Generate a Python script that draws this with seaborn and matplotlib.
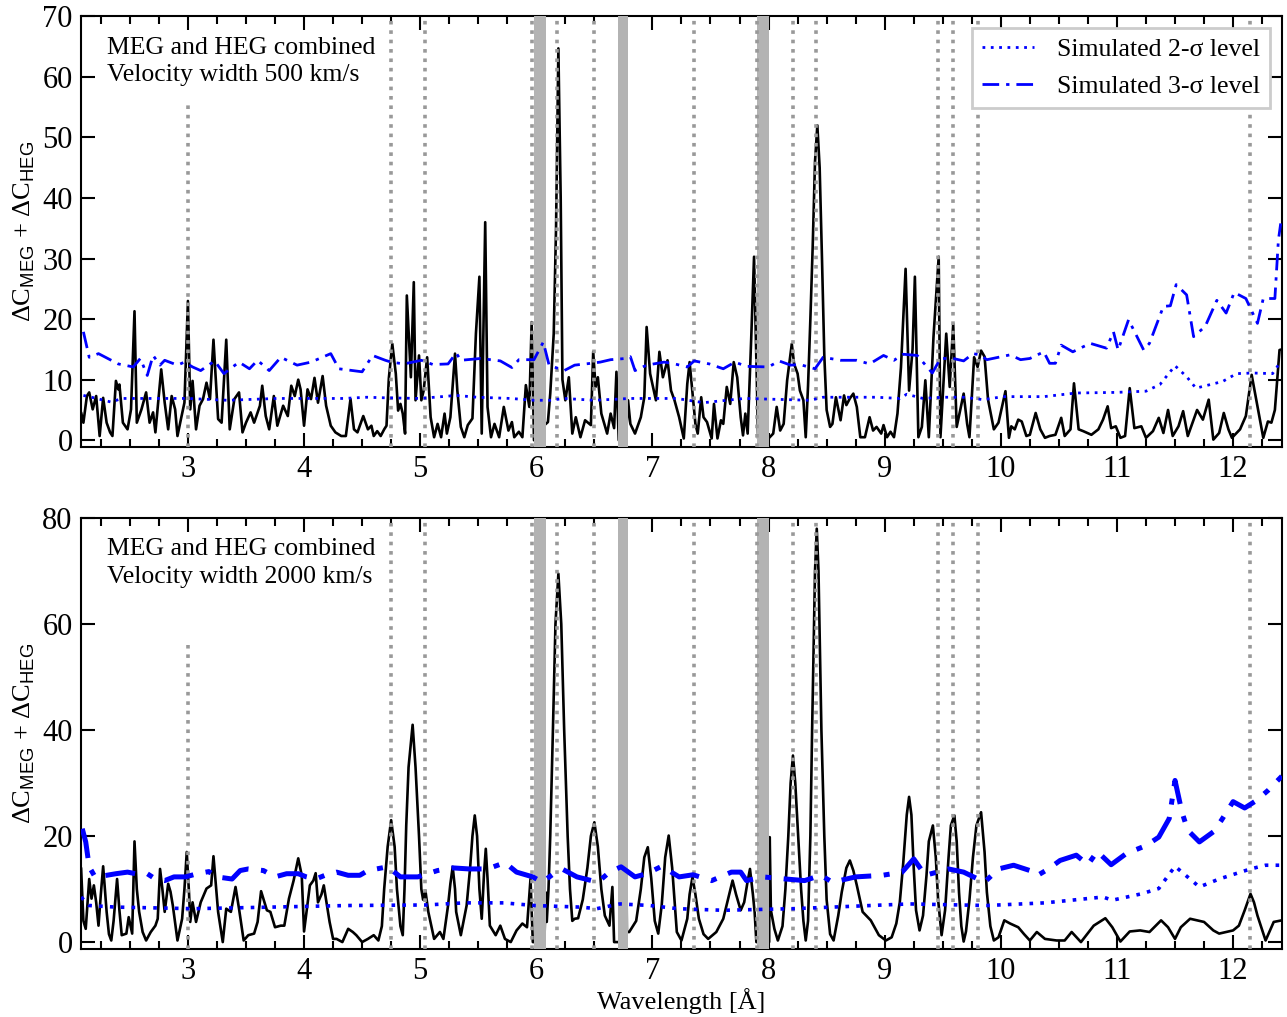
import seaborn as sns
import matplotlib.pyplot as plt
import pandas as pd
from matplotlib import ticker

sns.set_theme(style="ticks")
plt.rcParams["font.family"] = ["Liberation Serif", "DejaVu Serif"]
plt.rcParams["mathtext.fontset"] = "custom"
plt.rcParams["mathtext.sf"] = "Liberation Sans"
plt.rcParams["mathtext.rm"] = "Liberation Serif"
for key in ["text.color", "axes.labelcolor", "xtick.color", "ytick.color", "axes.edgecolor"]:
    plt.rcParams[key] = "black"

# ---- data ----
# panel 1: velocity width 500 km/s
w500 = [2.08, 2.10, 2.13, 2.15, 2.18, 2.21, 2.24, 2.27, 2.30, 2.33, 2.35, 2.38, 2.40, 2.41, 2.44, 2.48,
        2.51, 2.54, 2.56, 2.60, 2.64, 2.67, 2.70, 2.72, 2.77, 2.80, 2.83, 2.86, 2.89, 2.91, 2.94, 2.97,
        3.00, 3.02, 3.04, 3.07, 3.10, 3.13, 3.16, 3.19, 3.22, 3.26, 3.29, 3.33, 3.36, 3.40, 3.44, 3.47,
        3.50, 3.54, 3.57, 3.62, 3.64, 3.67, 3.70, 3.74, 3.77, 3.82, 3.86, 3.89, 3.92, 3.95, 3.97, 4.00,
        4.03, 4.06, 4.09, 4.12, 4.16, 4.19, 4.23, 4.27, 4.32, 4.36, 4.40, 4.43, 4.46, 4.51, 4.55, 4.58,
        4.60, 4.63, 4.66, 4.69, 4.71, 4.73, 4.76, 4.79, 4.81, 4.83, 4.85, 4.87, 4.885, 4.92, 4.945, 4.96,
        4.99, 5.01, 5.03, 5.06, 5.09, 5.12, 5.15, 5.18, 5.21, 5.23, 5.26, 5.30, 5.32, 5.35, 5.38, 5.41,
        5.45, 5.48, 5.51, 5.53, 5.56, 5.58, 5.61, 5.64, 5.68, 5.72, 5.76, 5.79, 5.81, 5.85, 5.88, 5.91,
        5.94, 5.96, 5.98, 6.04, 6.07, 6.10, 6.12, 6.15, 6.17, 6.19, 6.21, 6.225, 6.25, 6.28, 6.31, 6.34,
        6.38, 6.42, 6.47, 6.49, 6.51, 6.53, 6.56, 6.61, 6.64, 6.67, 6.69, 6.71, 6.77, 6.79, 6.81, 6.85,
        6.90, 6.93, 6.95, 6.98, 7.03, 7.06, 7.09, 7.13, 7.16, 7.19, 7.23, 7.27, 7.30, 7.32, 7.34, 7.37,
        7.39, 7.42, 7.44, 7.47, 7.51, 7.53, 7.56, 7.59, 7.61, 7.64, 7.67, 7.70, 7.73, 7.76, 7.78, 7.80,
        7.82, 7.85, 7.875, 7.91, 8.00, 8.04, 8.07, 8.10, 8.13, 8.16, 8.19, 8.20, 8.22, 8.25, 8.27, 8.30,
        8.32, 8.34, 8.36, 8.38, 8.40, 8.42, 8.44, 8.46, 8.48, 8.50, 8.53, 8.55, 8.58, 8.62, 8.65, 8.67,
        8.70, 8.73, 8.76, 8.79, 8.83, 8.87, 8.90, 8.93, 8.97, 8.99, 9.02, 9.05, 9.08, 9.11, 9.14, 9.18,
        9.21, 9.24, 9.26, 9.29, 9.32, 9.35, 9.38, 9.42, 9.465, 9.48, 9.53, 9.56, 9.59, 9.62, 9.68, 9.71,
        9.73, 9.77, 9.80, 9.83, 9.86, 9.89, 9.94, 9.98, 10.04, 10.07, 10.09, 10.12, 10.15, 10.18, 10.22, 10.25,
        10.30, 10.34, 10.38, 10.42, 10.47, 10.52, 10.55, 10.60, 10.63, 10.67, 10.71, 10.78, 10.84, 10.88, 10.92, 10.95,
        10.99, 11.03, 11.07, 11.11, 11.15, 11.21, 11.25, 11.31, 11.36, 11.40, 11.44, 11.48, 11.53, 11.57, 11.61, 11.66,
        11.69, 11.74, 11.79, 11.83, 11.88, 11.92, 11.96, 11.99, 12.06, 12.11, 12.16, 12.21, 12.26, 12.30, 12.33, 12.36,
        12.40, 12.42]
dc500 = [4.6, 2.9, 7.3, 7.9, 5.1, 7.3, 0.7, 7.0, 2.9, 1.3, 0.7, 9.8, 8.4, 9.2, 2.9, 1.8,
         5.1, 21.3, 2.9, 5.1, 7.9, 2.9, 4.6, 1.3, 11.7, 6.2, 1.8, 7.3, 5.1, 0.7, 3.5, 6.2,
         23.0, 5.1, 9.8, 1.8, 5.7, 6.8, 9.5, 6.8, 16.6, 3.5, 2.9, 16.6, 1.8, 6.8, 7.9, 1.3,
         2.9, 4.6, 2.9, 5.7, 9.0, 4.0, 1.8, 7.3, 2.4, 5.7, 4.0, 9.0, 7.3, 10.0, 8.4, 2.4,
         8.4, 6.8, 10.3, 6.2, 10.6, 5.7, 2.4, 1.3, 0.7, 0.7, 6.8, 1.8, 1.3, 4.0, 1.8, 2.4,
         0.7, 1.5, 0.7, 1.8, 2.4, 10.2, 15.9, 11.0, 4.9, 6.0, 4.4, 1.1, 23.9, 10.4, 26.1, 6.6,
         14.0, 6.6, 8.2, 13.7, 3.8, 0.5, 2.7, 0.5, 4.4, 1.1, 3.8, 14.3, 8.2, 2.2, 0.5, 2.5,
         3.6, 17.6, 27.0, 1.1, 36.0, 5.5, 0.5, 2.7, 0.5, 5.5, 1.6, 3.0, 0.5, 1.4, 0.5, 9.1,
         5.5, 19.5, 0.0, 0.0, 2.5, 3.0, 7.7, 17.6, 35.0, 64.7, 40.0, 10.0, 6.6, 10.4, 1.1, 3.8,
         0.5, 3.3, 2.5, 14.6, 8.8, 10.4, 4.4, 1.1, 4.4, 2.0, 11.3, 0.0, 0.0, 6.6, 2.7, 1.1,
         3.8, 7.1, 18.7, 11.0, 6.6, 14.6, 10.4, 13.2, 8.2, 6.6, 3.8, 0.3, 9.3, 12.9, 8.8, 2.7,
         1.1, 7.1, 3.8, 3.0, 0.3, 6.0, 0.3, 3.3, 2.7, 8.8, 6.0, 12.9, 10.4, 3.8, 0.8, 4.4,
         1.1, 16.5, 30.3, 0.3, 0.3, 1.1, 5.5, 1.6, 2.7, 9.9, 14.3, 15.9, 12.6, 11.0, 8.2, 6.6,
         0.5, 9.0, 20.0, 32.0, 46.0, 52.0, 45.0, 30.0, 14.0, 5.0, 2.2, 2.7, 7.1, 3.3, 7.4, 5.8,
         6.9, 7.7, 5.5, 0.5, 0.5, 3.8, 1.6, 2.2, 1.1, 2.5, 0.5, 1.4, 0.5, 4.4, 12.0, 28.3,
         8.2, 15.0, 27.0, 0.5, 2.2, 9.9, 0.5, 17.0, 30.3, 0.5, 17.6, 8.8, 19.2, 2.2, 7.7, 2.7,
         0.5, 13.7, 12.1, 14.8, 13.8, 6.7, 1.8, 2.9, 8.1, 0.4, 2.3, 1.8, 3.4, 3.1, 0.7, 0.9,
         4.5, 1.8, 0.4, 0.7, 0.9, 3.7, 0.7, 1.8, 9.4, 1.8, 1.5, 0.9, 1.8, 3.4, 5.6, 2.0,
         2.3, 0.4, 0.7, 8.6, 2.0, 2.3, 0.4, 1.5, 3.7, 1.2, 5.0, 0.7, 2.3, 4.8, 0.7, 3.4,
         5.0, 3.4, 6.7, 0.1, 1.2, 4.5, 1.8, 0.4, 1.8, 4.0, 10.8, 5.6, 0.4, 3.1, 2.9, 5.0,
         14.9, 15.0]

sig2_w500 = [2.10, 2.17, 2.34, 2.43, 3.00, 3.34, 3.77, 4.06, 4.34, 4.54, 4.71, 5.00, 5.31, 5.49, 5.78,
             5.98, 6.12, 6.24, 6.50, 6.81, 7.21, 7.44, 7.79, 8.36, 8.47, 8.93, 9.13, 9.19, 9.33, 9.50,
             9.68, 9.85, 10.02, 10.37, 10.65, 10.99, 11.25, 11.37, 11.50, 11.60, 11.68, 11.91, 12.03,
             12.17, 12.34, 12.40]
sig2_500 = [7.4, 7.1, 6.3, 6.9, 6.9, 6.6, 6.9, 6.9, 6.9, 7.1, 7.0, 6.9, 7.4, 7.1, 6.9,
            6.6, 6.6, 6.9, 6.6, 6.9, 6.9, 6.2, 6.9, 6.6, 7.1, 7.1, 6.9, 7.6, 6.9, 7.1,
            7.1, 6.7, 7.2, 7.2, 7.8, 7.9, 8.1, 9.2, 12.3, 10.5, 8.6, 9.7, 11.0,
            11.1, 11.0, 12.7]

sig3_w500 = [2.10, 2.15, 2.23, 2.40, 2.53, 2.59, 2.65, 2.70, 2.76, 2.80, 2.91, 2.97, 3.04, 3.11, 3.23,
             3.31, 3.44, 3.53, 3.60, 3.70, 3.80, 3.94, 4.06, 4.23, 4.30, 4.50, 4.59, 4.70, 4.75, 4.86,
             5.01, 5.11, 5.24, 5.31, 5.35, 5.52, 5.69, 5.79, 5.85, 5.98, 6.06, 6.11, 6.24, 6.33, 6.47,
             6.55, 6.64, 6.77, 6.81, 6.85, 6.95, 7.10, 7.17, 7.30, 7.36, 7.49, 7.61, 7.71, 7.81, 8.00,
             8.09, 8.19, 8.27, 8.40, 8.47, 8.62, 8.76, 8.87, 8.99, 9.08, 9.16, 9.28, 9.41, 9.48, 9.59,
             9.68, 9.76, 9.82, 9.88, 10.08, 10.17, 10.25, 10.37, 10.42, 10.47, 10.52, 10.62, 10.77, 10.91,
             10.97, 11.01, 11.10, 11.23, 11.28, 11.40, 11.46, 11.51, 11.60, 11.66, 11.76, 11.86, 11.94,
             12.01, 12.11, 12.21, 12.26, 12.36, 12.39, 12.41]
sig3_500 = [17.9, 13.7, 14.3, 12.6, 12.1, 13.5, 10.7, 14.0, 12.4, 13.2, 12.4, 12.9, 12.1, 11.5, 13.1,
            11.0, 12.9, 11.8, 13.2, 11.5, 13.7, 12.4, 12.9, 14.3, 11.8, 11.3, 14.0, 13.2, 12.9, 12.6,
            13.2, 12.5, 12.6, 14.4, 13.2, 13.5, 13.1, 12.0, 13.3, 13.3, 16.2, 12.4, 11.5, 12.4, 12.7,
            12.9, 13.3, 13.5, 13.8, 11.5, 12.4, 12.9, 12.7, 12.1, 13.1, 12.6, 11.8, 12.9, 12.2, 12.1,
            13.1, 12.4, 12.5, 11.8, 13.7, 13.2, 13.2, 12.6, 14.0, 13.2, 14.2, 14.0, 11.1, 13.5, 13.5,
            13.1, 14.3, 14.1, 13.3, 14.1, 13.3, 13.5, 14.6, 12.7, 12.7, 15.7, 14.6, 16.0, 15.2,
            17.9, 14.9, 19.9, 14.9, 16.0, 22.1, 22.2, 25.7, 24.0, 17.1, 18.8, 23.1, 21.0,
            24.4, 23.4, 19.3, 23.4, 23.4, 33.0, 35.8]

# panel 2: velocity width 2000 km/s
w2000 = [2.08, 2.10, 2.12, 2.15, 2.17, 2.19, 2.21, 2.23, 2.25, 2.27, 2.30, 2.32, 2.34, 2.36, 2.39, 2.41,
         2.43, 2.47, 2.49, 2.52, 2.53, 2.54, 2.56, 2.58, 2.61, 2.64, 2.68, 2.72, 2.74, 2.76, 2.78, 2.80,
         2.83, 2.85, 2.87, 2.91, 2.95, 2.97, 2.99, 3.01, 3.02, 3.04, 3.07, 3.11, 3.16, 3.20, 3.22, 3.24,
         3.26, 3.30, 3.33, 3.37, 3.41, 3.44, 3.48, 3.52, 3.57, 3.60, 3.63, 3.68, 3.71, 3.75, 3.80, 3.83,
         3.87, 3.91, 3.95, 3.98, 4.00, 4.05, 4.08, 4.10, 4.12, 4.15, 4.17, 4.22, 4.25, 4.28, 4.33, 4.38,
         4.42, 4.45, 4.50, 4.55, 4.60, 4.64, 4.67, 4.69, 4.72, 4.75, 4.78, 4.80, 4.83, 4.85, 4.865, 4.88,
         4.90, 4.935, 4.96, 4.99, 5.01, 5.025, 5.045, 5.07, 5.12, 5.17, 5.20, 5.24, 5.26, 5.28, 5.30, 5.31,
         5.35, 5.40, 5.43, 5.45, 5.47, 5.49, 5.51, 5.53, 5.55, 5.565, 5.58, 5.60, 5.65, 5.69, 5.73, 5.78,
         5.83, 5.88, 5.92, 5.95, 5.97, 6.07, 6.08, 6.09, 6.105, 6.12, 6.143, 6.165, 6.19, 6.215, 6.24, 6.27,
         6.29, 6.31, 6.33, 6.36, 6.40, 6.44, 6.47, 6.50, 6.53, 6.56, 6.59, 6.63, 6.655, 6.67, 6.765, 6.77,
         6.78, 6.80, 6.86, 6.90, 6.93, 6.96, 6.99, 7.02, 7.05, 7.08, 7.11, 7.14, 7.17, 7.20, 7.21, 7.25,
         7.30, 7.32, 7.345, 7.37, 7.40, 7.44, 7.48, 7.55, 7.61, 7.65, 7.69, 7.72, 7.76, 7.79, 7.82, 7.84,
         7.865, 7.88, 7.895, 8.005, 8.01, 8.02, 8.05, 8.08, 8.12, 8.145, 8.17, 8.19, 8.21, 8.23, 8.255, 8.28,
         8.30, 8.32, 8.34, 8.36, 8.375, 8.40, 8.415, 8.43, 8.455, 8.48, 8.50, 8.53, 8.56, 8.60, 8.63, 8.67,
         8.70, 8.73, 8.76, 8.81, 8.88, 8.95, 9.01, 9.06, 9.10, 9.13, 9.16, 9.19, 9.21, 9.23, 9.25, 9.27,
         9.30, 9.33, 9.36, 9.38, 9.415, 9.44, 9.46, 9.49, 9.52, 9.55, 9.57, 9.60, 9.62, 9.64, 9.66, 9.68,
         9.70, 9.73, 9.76, 9.79, 9.83, 9.86, 9.88, 9.91, 9.94, 9.98, 10.03, 10.08, 10.15, 10.20, 10.25, 10.31,
         10.38, 10.48, 10.55, 10.61, 10.69, 10.80, 10.90, 10.96, 11.03, 11.11, 11.20, 11.28, 11.38, 11.44, 11.50, 11.55,
         11.63, 11.75, 11.83, 11.88, 12.00, 12.05, 12.10, 12.15, 12.18, 12.21, 12.28, 12.35, 12.42]
dc2000 = [14.0, 4.0, 2.5, 11.9, 8.2, 10.7, 7.5, 3.1, 9.0, 14.3, 5.7, 1.5, 0.3, 4.0, 11.9, 6.0,
          1.3, 1.6, 4.7, 1.6, 10.0, 19.0, 10.0, 5.7, 1.9, 0.3, 1.9, 3.1, 4.4, 13.8, 10.0, 5.7,
          11.0, 9.5, 6.9, 0.3, 4.4, 10.0, 17.0, 9.0, 3.8, 7.5, 3.8, 7.5, 10.1, 10.7, 16.2, 11.0,
          5.7, 0.0, 6.3, 5.7, 10.4, 6.3, 0.3, 1.3, 1.6, 3.8, 9.6, 6.0, 5.7, 2.8, 3.1, 3.1,
          8.2, 11.6, 15.8, 12.6, 2.0, 10.7, 11.6, 13.0, 7.5, 9.0, 10.7, 3.8, 0.6, 0.6, 0.0, 2.5,
          1.9, 1.3, 0.0, 0.6, 1.3, 0.3, 3.0, 10.0, 18.0, 23.0, 18.0, 10.0, 3.0, 1.3, 10.0, 22.0,
          33.0, 41.0, 33.0, 20.0, 10.0, 8.0, 9.7, 5.7, 0.6, 1.9, 0.6, 6.9, 11.0, 14.2, 10.0, 5.7,
          1.3, 6.9, 14.0, 20.0, 23.9, 20.0, 10.0, 4.4, 13.0, 17.6, 12.0, 3.1, 1.3, 3.1, 0.6, 0.0,
          2.2, 3.5, 2.8, 11.9, 0.0, 0.0, 9.4, 3.8, 10.0, 20.0, 40.0, 60.0, 69.5, 60.0, 40.0, 20.0,
          10.0, 4.0, 4.4, 4.5, 8.0, 14.0, 20.0, 22.6, 18.0, 10.0, 5.0, 3.1, 10.4, 0.0, 0.0, 31.0,
          1.9, 1.9, 4.0, 10.0, 16.0, 17.9, 12.0, 4.0, 1.6, 7.0, 16.0, 20.1, 14.0, 5.0, 1.9, 0.3,
          4.4, 9.0, 12.3, 9.0, 4.4, 1.5, 0.6, 1.9, 4.4, 8.0, 11.6, 9.0, 6.0, 7.5, 11.5, 13.8,
          9.0, 5.7, 0.0, 0.0, 19.8, 6.0, 2.5, 0.3, 3.0, 10.0, 20.0, 30.0, 35.2, 30.0, 20.0, 10.0,
          4.0, 0.3, 4.0, 20.0, 40.0, 70.0, 78.0, 70.0, 40.0, 20.0, 8.0, 1.5, 0.3, 5.0, 9.4, 14.0,
          15.4, 13.5, 10.7, 5.7, 4.1, 1.3, 0.3, 0.9, 3.5, 7.5, 15.0, 24.0, 27.4, 24.0, 14.0, 6.0,
          2.2, 5.0, 12.6, 19.0, 22.0, 16.0, 8.0, 1.3, 6.0, 16.0, 22.0, 23.9, 19.0, 9.4, 3.0, 0.1,
          2.0, 8.0, 16.0, 22.0, 24.5, 17.0, 9.4, 3.0, 0.3, 0.9, 4.1, 3.5, 2.8, 1.5, 0.3, 1.9,
          0.6, 0.3, 0.3, 1.9, 0.0, 3.1, 4.5, 2.8, 0.1, 2.0, 2.2, 1.9, 4.1, 2.8, 0.6, 2.8,
          4.4, 3.8, 2.2, 1.6, 2.2, 3.1, 6.0, 9.1, 7.5, 5.0, 0.3, 3.8, 4.1]

sig2_w2000 = [2.08, 2.15, 2.38, 3.05, 3.72, 4.38, 5.05, 5.38, 5.72, 5.98, 6.38, 6.52, 6.72, 6.98, 7.22,
              7.61, 8.21, 8.55, 9.21, 9.88, 10.38, 10.88, 10.96, 11.21, 11.36, 11.50, 11.71, 11.88,
              12.15, 12.28, 12.42]
sig2_2000 = [8.5, 6.9, 6.6, 6.3, 6.6, 6.9, 7.0, 7.4, 7.4, 6.9, 6.6, 6.3, 7.2, 6.9, 6.3,
             6.0, 6.3, 6.6, 7.2, 6.9, 7.4, 8.5, 7.9, 9.1, 10.1, 14.3, 10.4, 11.9,
             13.8, 14.5, 14.5]

sig3_w2000 = [2.09, 2.12, 2.15, 2.20, 2.30, 2.38, 2.48, 2.55, 2.65, 2.72, 2.80, 2.88, 2.98, 3.08, 3.18,
              3.25, 3.38, 3.45, 3.52, 3.65, 3.75, 3.85, 3.95, 4.02, 4.10, 4.18, 4.28, 4.38, 4.48, 4.55,
              4.72, 4.83, 4.98, 5.15, 5.28, 5.42, 5.58, 5.73, 5.83, 5.97, 6.05, 6.15, 6.23, 6.35, 6.53,
              6.63, 6.73, 6.85, 6.95, 7.08, 7.23, 7.35, 7.51, 7.68, 7.76, 7.81, 7.95, 8.15, 8.31, 8.45,
              8.55, 8.75, 8.98, 9.15, 9.25, 9.35, 9.45, 9.55, 9.68, 9.86, 9.98, 10.11, 10.25, 10.31, 10.41,
              10.51, 10.65, 10.75, 10.83, 10.95, 11.08, 11.25, 11.36, 11.45, 11.50, 11.56, 11.61, 11.71,
              11.83, 11.90, 12.00, 12.10, 12.20, 12.30, 12.42]
sig3_2000 = [21.4, 18.9, 14.2, 12.3, 12.6, 12.9, 13.2, 12.9, 12.9, 11.9, 11.6, 12.3, 12.3, 12.9, 13.3,
             12.3, 11.9, 13.5, 13.8, 13.5, 12.3, 12.9, 12.9, 12.3, 11.9, 12.6, 13.2, 12.6, 12.6, 13.5,
             14.2, 12.3, 12.3, 13.5, 14.0, 13.8, 13.8, 15.0, 13.2, 12.3, 11.3, 12.9, 13.7, 12.3, 11.3,
             13.2, 14.2, 12.3, 12.9, 14.3, 12.3, 12.7, 11.6, 13.2, 13.2, 11.6, 12.3, 11.9, 11.6, 12.6,
             11.3, 12.3, 12.6, 13.2, 15.7, 12.6, 13.2, 13.8, 13.2, 11.3, 13.8, 14.5, 13.5, 12.5, 13.8,
             15.4, 16.4, 14.6, 17.1, 14.6, 16.7, 18.2, 19.8, 23.3, 30.5, 24.5, 21.1, 18.9,
             20.8, 23.0, 26.5, 25.3, 26.7, 28.6, 31.3]

# marked line positions and excluded bands
line_x = [4.75, 5.04, 5.96, 6.18, 6.50, 7.36, 7.90, 8.21, 8.41, 9.46, 9.59, 9.80, 12.15]
short_line_x = [3.0]
short_line_top = 56
bands = [(5.98, 6.08), (6.70, 6.79), (7.90, 8.00)]

panels = [
    ("500", w500, dc500, sig2_w500, sig2_500, sig3_w500, sig3_500, 70, 10, 2.0, 2.0),
    ("2000", w2000, dc2000, sig2_w2000, sig2_2000, sig3_w2000, sig3_2000, 80, 20, 2.6, 3.6),
]

fig, axes = plt.subplots(2, 1, figsize=(12.87, 10.17), dpi=100)
fig.subplots_adjust(left=0.063, right=0.996, top=0.984, bottom=0.067, hspace=0.165)

for ax, (vel, wl, dc, s2x, s2y, s3x, s3y, ytop, ystep, lw2, lw3) in zip(axes, panels):
    ybot = -ytop * 0.016
    sns.lineplot(data=pd.DataFrame({"x": wl, "y": dc}), x="x", y="y", ax=ax, color="black",
                 lw=1.9, estimator=None, sort=False, zorder=2)
    for lo, hi in bands:
        ax.axvspan(lo, hi, color="#b3b3b3", lw=0, zorder=3)
    ax.vlines(line_x, ybot, ytop, colors="#999999", linestyles=(0, (1.0, 1.6)), lw=2.6, zorder=3)
    ax.vlines(short_line_x, ybot, short_line_top, colors="#999999", linestyles=(0, (1.0, 1.6)),
              lw=2.6, zorder=3)
    sns.lineplot(data=pd.DataFrame({"x": s2x, "y": s2y}), x="x", y="y", ax=ax, color="#0000ff",
                 lw=lw2, linestyle=(0, (1, 2)), estimator=None, sort=False, zorder=4,
                 label="Simulated 2-σ level")
    sns.lineplot(data=pd.DataFrame({"x": s3x, "y": s3y}), x="x", y="y", ax=ax, color="#0000ff",
                 lw=lw3, linestyle=(0, (6, 2.5, 1.2, 2.5)), estimator=None, sort=False, zorder=4,
                 label="Simulated 3-σ level")

    ax.set_xlim(2.08, 12.42)
    ax.set_ylim(ybot, ytop)
    ax.xaxis.set_major_locator(ticker.MultipleLocator(1))
    ax.xaxis.set_minor_locator(ticker.MultipleLocator(0.25))
    ax.yaxis.set_major_locator(ticker.MultipleLocator(ystep))
    ax.tick_params(which="both", direction="in", top=True, right=True, width=1.5, labelsize=22)
    ax.tick_params(which="major", length=10, pad=6)
    ax.tick_params(which="minor", length=6)
    for sp in ax.spines.values():
        sp.set_linewidth(1.5)
    ax.set_ylabel("ΔC$_\\mathsf{MEG}$ + ΔC$_\\mathsf{HEG}$", fontsize=19, labelpad=4)
    ax.set_xlabel("")
    ax.text(0.022, 0.953, f"MEG and HEG combined\nVelocity width {vel} km/s",
            transform=ax.transAxes, ha="left", va="top", fontsize=18.5, linespacing=1.33)

leg = axes[0].legend(loc="upper right", fontsize=18.5, frameon=True, fancybox=False, framealpha=1,
                     edgecolor="#cccccc", handlelength=2.0, borderpad=0.4, labelspacing=0.55,
                     handletextpad=0.9, borderaxespad=0.45)
leg.get_frame().set_linewidth(2)
axes[1].get_legend().remove()
axes[1].set_xlabel("Wavelength [Å]", fontsize=19, labelpad=1)

plt.savefig("out.png", dpi=100)
